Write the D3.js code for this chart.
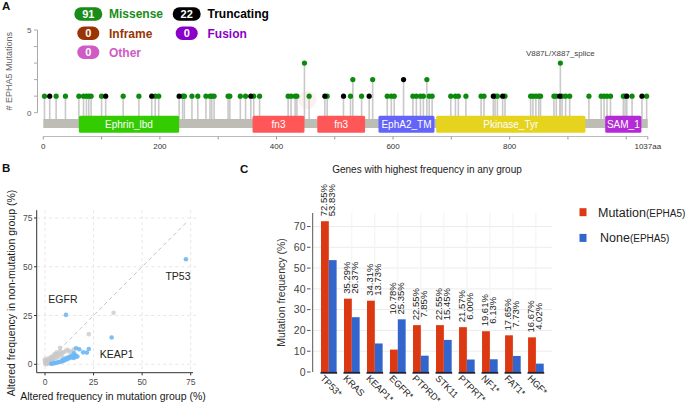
<!DOCTYPE html>
<html><head><meta charset="utf-8">
<script src="https://cdn.jsdelivr.net/npm/d3@7"></script>
<style>body{margin:0;background:#fff}svg{display:block;font-family:"Liberation Sans",Arial,sans-serif}</style>
</head><body><svg id="c" width="685" height="406"></svg>
<script>
// ================= DATA =================
// Panel A: EPHA5 lollipop
const proteinLength = 1037;
const domainNames  = ["Ephrin_lbd","fn3","fn3","EphA2_TM","Pkinase_Tyr","SAM_1"];
const domainStart  = [61, 359, 470, 575, 674, 964];
const domainEnd    = [233, 448, 552, 671, 930, 1026];
const domainColors = ["#33cc00","#ff5757","#ff5757","#6464fa","#e5d31e","#b42ad6"];
const missensePos = [2,22,38,61,69,74,78,82,100,137,164,192,198,239,242,255,265,279,286,289,293,317,320,338,347,361,371,420,425,432,435,448,456,487,527,531,546,565,590,597,602,634,640,647,652,658,662,667,699,707,712,725,751,756,775,779,792,836,840,845,850,853,876,880,887,890,896,903,936,957,962,967,973,995,998,1010,1035];
const missenseCnt = [1,1,1,1,1,1,1,1,1,1,1,1,1,1,1,1,1,1,1,1,1,1,1,1,1,1,1,1,1,1,1,3,1,1,1,2,1,2,1,1,1,1,1,1,1,2,1,1,1,1,1,1,1,1,1,1,1,1,1,1,1,1,1,1,3,1,1,1,1,1,1,1,1,1,1,1,1];
const truncPos = [11,107,186,233,356,483,515,559,618,772,788,886,1001,1027];
const truncCnt = [1,1,1,1,1,1,1,1,2,1,1,1,1,1];
const labelMutation = "V887L/X887_splice";
const labelMutationPos = 887, labelMutationCnt = 3;
const legendCounts = [91, 22, 0, 0, 0];
const legendNames  = ["Missense","Truncating","Inframe","Fusion","Other"];
const legendColors = ["#1a8c1a","#000000","#993404","#8b00c9","#cf5bc4"];
const aTickLabels = [0,200,400,600,800];

// Panel B: scatter
const blueX = [72.55,10.78,34.31,22.55,21.57,19.61,17.65,16.67,16.0,14.9,15.7,15.7,14.7,14.7,13.7,13.7,12.7,12.7,11.8,11.8,10.8,10.8,9.8,9.8,8.8,8.8,7.8,6.9,5.9,4.9,3.9,3.2];
const blueY = [53.83,25.35,13.73,7.85,6.0,6.13,7.73,4.02,8.2,5.6,4.6,3.8,4.1,3.2,3.6,4.4,3.3,3.9,2.8,3.4,2.4,3.1,1.9,2.6,1.5,2.0,1.3,1.1,0.8,0.6,0.4,0.3];
const grayX = [35.29,22.55,7.7,12.5,14.7,11.8,9.8,8.8,7.8,6.9,5.9,4.9,4.9,3.9,3.9,2.9,2.9,2.0,2.0,1.0,1.0,1.0,0.5,2.0,3.9,1.5,0.5,0.0,0.0,0.0,2.9,5.9,6.9,7.8,13.7,8.8,10.8,3.0,1.2,0.3,4.4,6.0];
const grayY = [26.37,15.45,8.5,6.4,7.5,7.4,6.2,6.0,5.1,5.5,4.7,3.9,5.2,4.2,3.1,2.8,3.6,2.3,1.5,1.8,1.1,0.6,0.4,0.9,1.9,2.9,1.5,0.8,1.9,2.5,1.6,3.2,3.9,6.8,6.4,4.3,7.0,0.5,0.2,0.1,2.4,6.2];
const labelGenes = ["TP53","EGFR","KEAP1"];
const labelGeneX = [72.55,10.78,34.31];
const labelGeneY = [53.83,25.35,13.73];
const bTicks = [0,25,50,75];

// Panel C: bar chart
const genes = ["TP53*","KRAS","KEAP1*","EGFR*","PTPRD*","STK11","PTPRT*","NF1*","FAT1*","HGF*"];
const mutVals  = [72.55,35.29,34.31,10.78,22.55,22.55,21.57,19.61,17.65,16.67];
const noneVals = [53.83,26.37,13.73,25.35,7.85,15.45,6.00,6.13,7.73,4.02];
const cTicks = [0,10,20,30,40,50,60,70];
const seriesNames = ["Mutation","None"];
const seriesColors = ["#dc3912","#3366cc"];

// ================= DRAW =================
const svg = d3.select("#c");

[["A",2,10],["B",2,172],["C",240,173]].forEach(([t,x,y])=>
  svg.append("text").attr("x",x).attr("y",y).attr("font-size",11.5).attr("font-weight","bold").attr("fill","#111").text(t));

// ---------- Panel A ----------
const xA = d3.scaleLinear().domain([0,proteinLength]).range([43.3,647.8]);
const yA = d3.scaleLinear().domain([0,5]).range([112.7,30]);
const barTop = 119, barBot = 128;

const legX = [88.3,186.7,88.3,186.7,88.3], legY = [14,14,33.3,33.3,52.3], legTX=[109,207.5,109,207.5,109];
legendCounts.forEach((c,i)=>{
  const w = String(c).length>1 ? 28 : 22;
  svg.append("rect").attr("x",legX[i]-w/2).attr("y",legY[i]-6.7).attr("width",w).attr("height",13.4)
    .attr("rx",6.7).attr("fill",legendColors[i]);
  svg.append("text").attr("x",legX[i]).attr("y",legY[i]+4).attr("text-anchor","middle")
    .attr("font-size",11).attr("font-weight","bold").attr("fill","#fff").text(c);
  svg.append("text").attr("x",legTX[i]).attr("y",legY[i]+4.3).attr("font-size",12)
    .attr("font-weight","bold").attr("fill",legendColors[i]).text(legendNames[i]);
});

svg.append("line").attr("x1",37.5).attr("x2",37.5).attr("y1",yA(5)).attr("y2",yA(0)).attr("stroke","#aaa");
d3.range(0,6).forEach(v=>svg.append("line").attr("x1",34).attr("x2",37.5).attr("y1",yA(v)).attr("y2",yA(v)).attr("stroke","#aaa"));
[0,5].forEach(v=>svg.append("text").attr("x",31.5).attr("y",yA(v)+3).attr("text-anchor","end").attr("font-size",8).attr("fill","#555").text(v));
svg.append("text").attr("transform",`translate(12,${yA(2.5)}) rotate(-90)`).attr("text-anchor","middle")
  .attr("font-size",9).attr("fill","#666").text("# EPHA5 Mutations");

svg.append("circle").attr("cx",xA(453)).attr("cy",yA(0.77)).attr("r",9).attr("fill","#fdf0f0");

const allMuts = missensePos.map((p,i)=>({p,c:missenseCnt[i],col:"#0b8a0b"}))
  .concat(truncPos.map((p,i)=>({p,c:truncCnt[i],col:"#000"})));
svg.append("g").selectAll("line").data(allMuts).join("line")
  .attr("x1",d=>xA(d.p)).attr("x2",d=>xA(d.p)).attr("y1",barTop).attr("y2",d=>yA(d.c))
  .attr("stroke","#c9c9c9").attr("stroke-width",1.6);

svg.append("rect").attr("x",xA(0)).attr("y",barTop).attr("width",xA(proteinLength)-xA(0)).attr("height",barBot-barTop).attr("fill","#bdbdb5");
domainNames.forEach((n,i)=>{
  svg.append("rect").attr("x",xA(domainStart[i])).attr("y",115.7).attr("width",xA(domainEnd[i])-xA(domainStart[i]))
    .attr("height",17).attr("rx",1.5).attr("fill",domainColors[i]);
  svg.append("text").attr("x",(xA(domainStart[i])+xA(domainEnd[i]))/2).attr("y",127.8).attr("text-anchor","middle")
    .attr("font-size",10).attr("fill","#fff").text(n);
});

svg.append("g").selectAll("circle").data(allMuts).join("circle")
  .attr("cx",d=>xA(d.p)).attr("cy",d=>yA(d.c)).attr("r",2.6).attr("fill",d=>d.col);

svg.append("text").attr("x",xA(labelMutationPos)).attr("y",yA(labelMutationCnt)-7).attr("text-anchor","middle")
  .attr("font-size",8).attr("fill","#444").text(labelMutation);

svg.append("line").attr("x1",xA(0)).attr("x2",xA(proteinLength)).attr("y1",136.5).attr("y2",136.5).attr("stroke","#bbb");
d3.range(0,1001,100).concat([proteinLength]).forEach(v=>
  svg.append("line").attr("x1",xA(v)).attr("x2",xA(v)).attr("y1",136.5).attr("y2",139.5).attr("stroke","#999"));
aTickLabels.forEach(v=>svg.append("text").attr("x",xA(v)).attr("y",149).attr("text-anchor","middle").attr("font-size",8).attr("fill","#333").text(v));
svg.append("text").attr("x",xA(proteinLength)).attr("y",149).attr("text-anchor","middle").attr("font-size",8).attr("fill","#333").text(proteinLength+"aa");

// ---------- Panel B ----------
const xB = d3.scaleLinear().domain([0,75]).range([45,190.7]);
const yB = d3.scaleLinear().domain([0,75]).range([364.3,218]);
const gB = svg.append("g");
bTicks.forEach(v=>{
  gB.append("line").attr("x1",xB(v)).attr("x2",xB(v)).attr("y1",yB(79)).attr("y2",yB(-4)).attr("stroke","#e6e6e6").attr("stroke-dasharray","3,3");
  gB.append("line").attr("x1",xB(-4)).attr("x2",xB(79)).attr("y1",yB(v)).attr("y2",yB(v)).attr("stroke","#e6e6e6").attr("stroke-dasharray","3,3");
});
gB.append("line").attr("x1",xB(5)).attr("y1",yB(5)).attr("x2",xB(72.55)).attr("y2",yB(72.55))
  .attr("stroke","#c4c4c4").attr("stroke-dasharray","4,3");
gB.append("g").selectAll("circle").data(grayX.map((x,i)=>[x,grayY[i]])).join("circle")
  .attr("cx",d=>xB(d[0])).attr("cy",d=>yB(d[1])).attr("r",2.3).attr("fill","#c8c8c8").attr("opacity",0.75);
gB.append("g").selectAll("circle").data(blueX.map((x,i)=>[x,blueY[i]])).join("circle")
  .attr("cx",d=>xB(d[0])).attr("cy",d=>yB(d[1])).attr("r",2.3).attr("fill","#6db8f5").attr("opacity",0.9);
const lblOff = [[-8,21],[-3,-12],[5,20]];
labelGenes.forEach((g,i)=>gB.append("text").attr("x",xB(labelGeneX[i])+lblOff[i][0]).attr("y",yB(labelGeneY[i])+lblOff[i][1])
  .attr("text-anchor","middle").attr("font-size",10.5).attr("fill","#222").text(g));
gB.append("line").attr("x1",36.7).attr("x2",36.7).attr("y1",yB(79)).attr("y2",yB(-4.3)).attr("stroke","#333");
gB.append("line").attr("x1",36.7).attr("x2",xB(76.2)).attr("y1",yB(-4.3)).attr("y2",yB(-4.3)).attr("stroke","#333");
bTicks.forEach(v=>{
  gB.append("line").attr("x1",34).attr("x2",36.7).attr("y1",yB(v)).attr("y2",yB(v)).attr("stroke","#333");
  gB.append("text").attr("x",32.5).attr("y",yB(v)+3).attr("text-anchor","end").attr("font-size",8.5).attr("fill","#4d4d4d").text(v);
  gB.append("line").attr("x1",xB(v)).attr("x2",xB(v)).attr("y1",yB(-4.3)).attr("y2",yB(-4.3)+2.7).attr("stroke","#333");
  gB.append("text").attr("x",xB(v)).attr("y",385).attr("text-anchor","middle").attr("font-size",8.5).attr("fill","#4d4d4d").text(v);
});
gB.append("text").attr("x",113).attr("y",400).attr("text-anchor","middle").attr("font-size",10.5).attr("fill","#1a1a1a").text("Altered frequency in mutation group (%)");
gB.append("text").attr("transform","translate(15,293) rotate(-90)").attr("text-anchor","middle").attr("font-size",10.5).attr("fill","#1a1a1a").text("Altered frequency in non-mutation group (%)");

// ---------- Panel C ----------
const xC = d3.scaleBand().domain(genes).range([312.7,552]).paddingInner(0.32).paddingOuter(0.36);
const xS = d3.scaleBand().domain(seriesNames).range([0,xC.bandwidth()]);
const yC = d3.scaleLinear().domain([0,76.5]).range([372,213]);
const gC = svg.append("g");
svg.append("text").attr("x",427).attr("y",173).attr("text-anchor","middle").attr("font-size",10).attr("fill","#222").text("Genes with highest frequency in any group");
cTicks.forEach(v=>{
  if(v>0) gC.append("line").attr("x1",312.7).attr("x2",552).attr("y1",yC(v)).attr("y2",yC(v)).attr("stroke","#ececec");
});
genes.forEach(g=>gC.append("line").attr("x1",xC(g)+xC.bandwidth()/2).attr("x2",xC(g)+xC.bandwidth()/2).attr("y1",yC(76.5)).attr("y2",yC(0)).attr("stroke","#f2f2f2"));
const rows = genes.map((g,i)=>({g,vals:[mutVals[i],noneVals[i]]}));
rows.forEach(r=>{
  r.vals.forEach((v,j)=>{
    gC.append("rect").attr("x",xC(r.g)+xS(seriesNames[j])).attr("width",xS.bandwidth()).attr("y",yC(v)).attr("height",yC(0)-yC(v)).attr("fill",seriesColors[j]);
  });
  const ly = yC(d3.max(r.vals))-21;
  r.vals.forEach((v,j)=>{
    const lx = xC(r.g)+xS(seriesNames[j])+xS.bandwidth()/2-1;
    gC.append("text").attr("transform",`translate(${lx},${ly}) rotate(-90)`).attr("text-anchor","middle")
      .attr("dominant-baseline","central").attr("font-size",9.5).attr("fill","#222").text(v.toFixed(2)+"%");
  });
  gC.append("line").attr("x1",xC(r.g)-0.5).attr("x2",xC(r.g)+xC.bandwidth()+0.5).attr("y1",yC(0)+0.8).attr("y2",yC(0)+0.8).attr("stroke","#1f2235").attr("stroke-width",1.8);
  const cx = xC(r.g)+xC.bandwidth()/2;
  gC.append("text").attr("transform",`translate(${cx-9},379) rotate(45)`).attr("font-size",9.3).attr("fill","#222").text(r.g);
});
gC.append("line").attr("x1",312.7).attr("x2",312.7).attr("y1",213).attr("y2",372).attr("stroke","#555");
cTicks.forEach(v=>{
  gC.append("line").attr("x1",307).attr("x2",310.5).attr("y1",yC(v)).attr("y2",yC(v)).attr("stroke","#555");
  gC.append("text").attr("x",305.5).attr("y",yC(v)+3.8).attr("text-anchor","end").attr("font-size",10.5).attr("fill","#444").text(v);
});
gC.append("text").attr("transform","translate(285,292.5) rotate(-90)").attr("text-anchor","middle").attr("font-size",10.5).attr("fill","#333").text("Mutation frequency (%)");
seriesNames.forEach((s,i)=>{
  const ly = 212.2 + i*25.7;
  svg.append("rect").attr("x",579.5).attr("y",ly-4).attr("width",7).attr("height",8).attr("fill",seriesColors[i]);
  const t = svg.append("text").attr("x",i?600:598).attr("y",ly+4.3).attr("font-size",12.5).attr("fill","#222");
  t.append("tspan").text(s);
  t.append("tspan").attr("font-size",10).text("(EPHA5)");
});
</script></body></html>
